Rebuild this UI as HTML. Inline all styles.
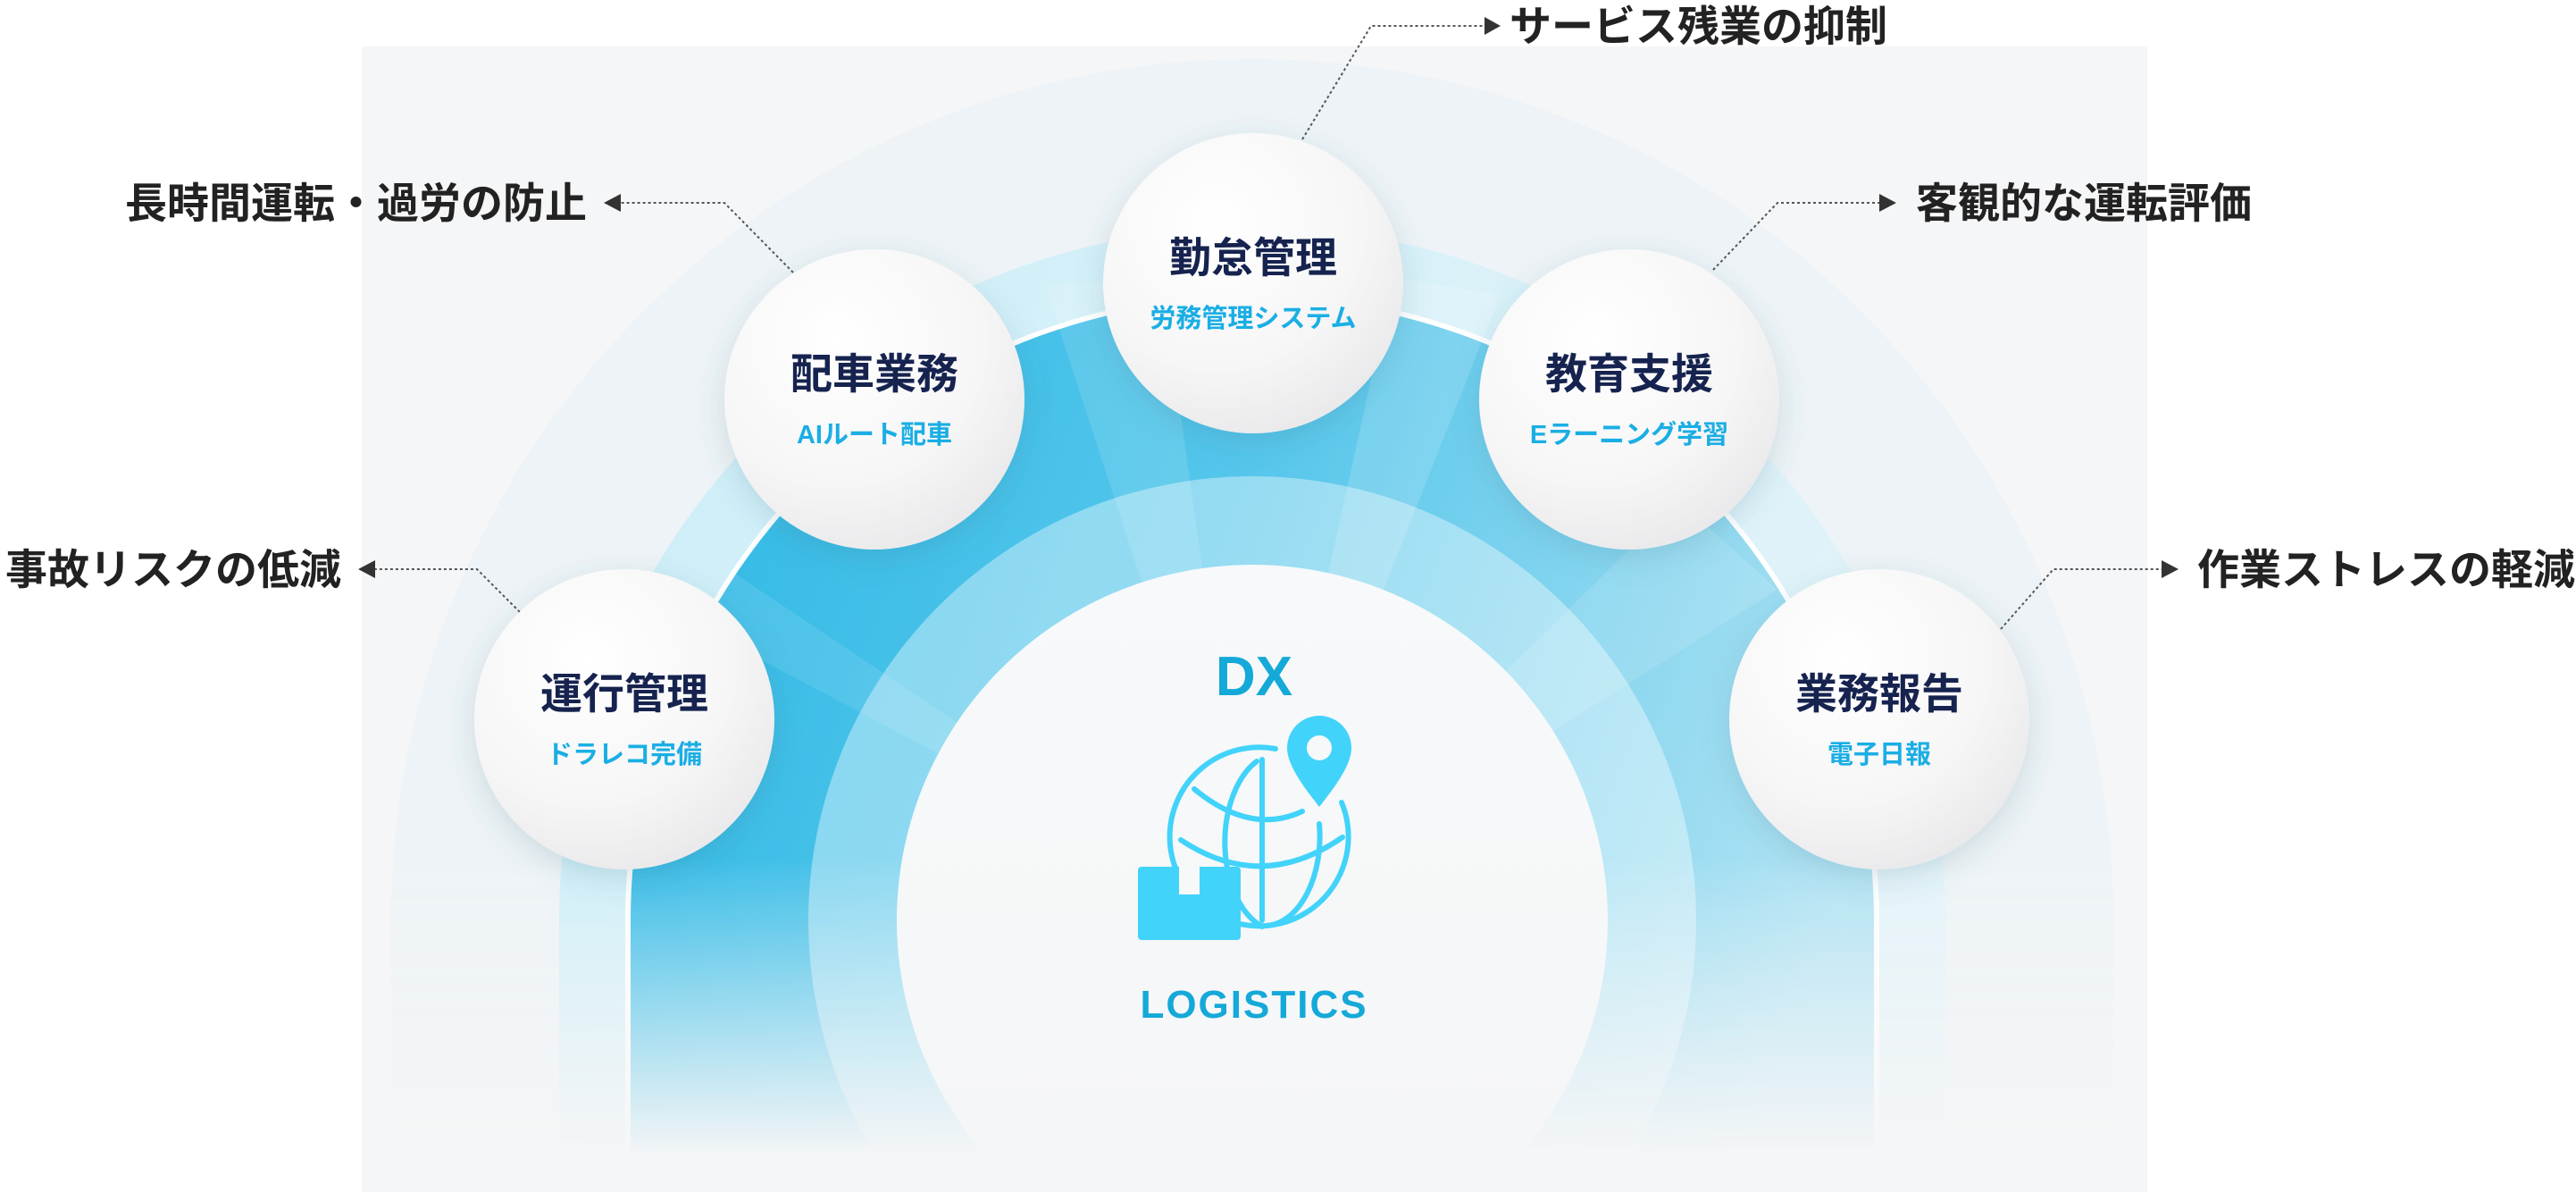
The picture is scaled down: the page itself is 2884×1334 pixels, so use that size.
<!DOCTYPE html>
<html><head><meta charset="utf-8"><style>
html,body{margin:0;padding:0;background:#fff;width:2884px;height:1334px;overflow:hidden;}
svg{display:block;overflow:hidden;}
text{font-family:"Liberation Sans","Noto Sans CJK JP",sans-serif;}
</style></head><body>
<svg width="2884" height="1334" viewBox="0 0 2884 1334" xmlns="http://www.w3.org/2000/svg">
<defs>
  <linearGradient id="fadeG" gradientUnits="userSpaceOnUse" x1="0" y1="0" x2="0" y2="1334">
    <stop offset="0" stop-color="#fff"/>
    <stop offset="0.72" stop-color="#fff"/>
    <stop offset="0.97" stop-color="#000"/>
  </linearGradient>
  <mask id="fade" maskUnits="userSpaceOnUse" x="0" y="0" width="2884" height="1334">
    <rect width="2884" height="1334" fill="url(#fadeG)"/>
  </mask>
  <linearGradient id="band" gradientUnits="userSpaceOnUse" x1="750" y1="400" x2="2100" y2="900">
    <stop offset="0" stop-color="#2fb9e5"/>
    <stop offset="0.45" stop-color="#55c6eb"/>
    <stop offset="1" stop-color="#b2e3f3"/>
  </linearGradient>
  <linearGradient id="halo" gradientUnits="userSpaceOnUse" x1="700" y1="300" x2="2100" y2="900">
    <stop offset="0" stop-color="#cdeef8"/>
    <stop offset="1" stop-color="#e3f3f9"/>
  </linearGradient>
  <radialGradient id="node" cx="0.38" cy="0.3" r="0.8">
    <stop offset="0" stop-color="#ffffff"/>
    <stop offset="0.6" stop-color="#f6f6f7"/>
    <stop offset="1" stop-color="#e6e6e8"/>
  </radialGradient>
  <linearGradient id="core" gradientUnits="userSpaceOnUse" x1="0" y1="632" x2="0" y2="1334">
    <stop offset="0" stop-color="#f7f9fa"/>
    <stop offset="1" stop-color="#f5f6f7"/>
  </linearGradient>
  <filter id="sh" x="-30%" y="-30%" width="160%" height="170%">
    <feDropShadow dx="0" dy="10" stdDeviation="16" flood-color="#3a6a80" flood-opacity="0.18"/>
  </filter>
</defs>
<rect x="405" y="52" width="1999" height="1282" fill="#f5f6f7"/>

<g mask="url(#fade)">
  <path d="M438 1334 L438 1030 A964 964 0 0 1 2366 1030 L2366 1334 Z" fill="#edf3f6"/>
  <path d="M626 1334 L626 1030 A776 776 0 0 1 2178 1030 L2178 1334 Z" fill="url(#halo)"/>
  <path d="M700 1334 L700 1030 A702 702 0 0 1 2104 1030 L2104 1334 Z" fill="#ffffff"/>
  <path d="M706 1334 L706 1030 A696 696 0 0 1 2098 1030 L2098 1334 Z" fill="url(#band)"/>
  <path d="M1402 1030 L1170 320 L1300 310 Z" fill="#ffffff" opacity="0.12"/>
  <path d="M1402 1030 L1560 310 L1680 330 Z" fill="#ffffff" opacity="0.15"/>
  <path d="M1402 1030 L1880 560 L1990 660 Z" fill="#ffffff" opacity="0.12"/>
  <path d="M1402 1030 L780 700 L820 640 Z" fill="#ffffff" opacity="0.1"/>
  <path d="M1008.8 1334 A497 497 0 1 1 1795.2 1334 Z" fill="#ffffff" opacity="0.38"/>
</g>
<path d="M1145.1 1334 A398 398 0 1 1 1658.9 1334 Z" fill="url(#core)"/>
<rect x="405" y="1300" width="1999" height="34" fill="#f5f6f7" opacity="0.6"/>

<g fill="none" stroke="#555" stroke-width="2" stroke-dasharray="3 3">
  <polyline points="1458,156 1535,29 1662,29"/>
  <polyline points="888,305 811,227 695,227"/>
  <polyline points="582,685 534,637 420,637"/>
  <polyline points="1918,302 1990,227 2104,227"/>
  <polyline points="2240,704 2299,637 2420,637"/>
</g>
<g fill="#333">
  <path d="M1680 29 L1662 19 L1662 39 Z"/>
  <path d="M676 227 L695 217 L695 237 Z"/>
  <path d="M401 637 L420 627 L420 647 Z"/>
  <path d="M2123 227 L2104 217 L2104 237 Z"/>
  <path d="M2439 637 L2420 627 L2420 647 Z"/>
</g>
<g font-size="47" font-weight="bold" fill="#222">
  <text x="1690" y="46">サービス残業の抑制</text>
  <text x="657" y="244" text-anchor="end">長時間運転・過労の防止</text>
  <text x="382" y="654" text-anchor="end">事故リスクの低減</text>
  <text x="2145" y="244">客観的な運転評価</text>
  <text x="2460" y="654">作業ストレスの軽減</text>
</g>

<g filter="url(#sh)" fill="url(#node)">
  <circle cx="1403" cy="317" r="168"/>
  <circle cx="979" cy="447" r="168"/>
  <circle cx="1824" cy="447" r="168"/>
  <circle cx="699" cy="805" r="168"/>
  <circle cx="2104" cy="805" r="168"/>
</g>
<g text-anchor="middle" font-weight="bold">
  <g font-size="47" fill="#16234f">
    <text x="1403" y="305">勤怠管理</text>
    <text x="979" y="435">配車業務</text>
    <text x="1824" y="435">教育支援</text>
    <text x="699" y="793">運行管理</text>
    <text x="2104" y="793">業務報告</text>
  </g>
  <g font-size="29" fill="#1aaee4">
    <text x="1403" y="366">労務管理システム</text>
    <text x="979" y="496">AIルート配車</text>
    <text x="1824" y="496">Eラーニング学習</text>
    <text x="699" y="854">ドラレコ完備</text>
    <text x="2104" y="854">電子日報</text>
  </g>
</g>

<text x="1404" y="778" text-anchor="middle" font-size="62" font-weight="bold" fill="#14a9d8">DX</text>
<text x="1404" y="1139" text-anchor="middle" font-size="44" font-weight="bold" fill="#14a9d8" letter-spacing="2">LOGISTICS</text>
<g fill="none" stroke="#42d3fa" stroke-width="6" stroke-linecap="round">
  <path d="M1502 898 A100 100 0 1 1 1428 838"/>
  <path d="M1407 852 A62 100 0 0 0 1413 1037"/>
  <path d="M1477 922 A62 100 0 0 1 1418 1036"/>
  <line x1="1413" y1="850" x2="1413" y2="1030"/>
  <path d="M1337 883 Q1400 935 1458 908"/>
  <path d="M1322 940 Q1412 1000 1503 937"/>
</g>
<g fill="#42d3fa">
  <path d="M1477 801 A36 36 0 0 1 1513 837 C1513 856 1495 880 1477 903 C1459 880 1441 856 1441 837 A36 36 0 0 1 1477 801 Z"/>
  <circle cx="1477" cy="837" r="14" fill="#f6f8f9"/>
  <rect x="1274" y="970" width="115" height="82" rx="4"/>
  <rect x="1320" y="970" width="23" height="31" fill="#f6f8f9"/>
</g>
</svg>
</body></html>
